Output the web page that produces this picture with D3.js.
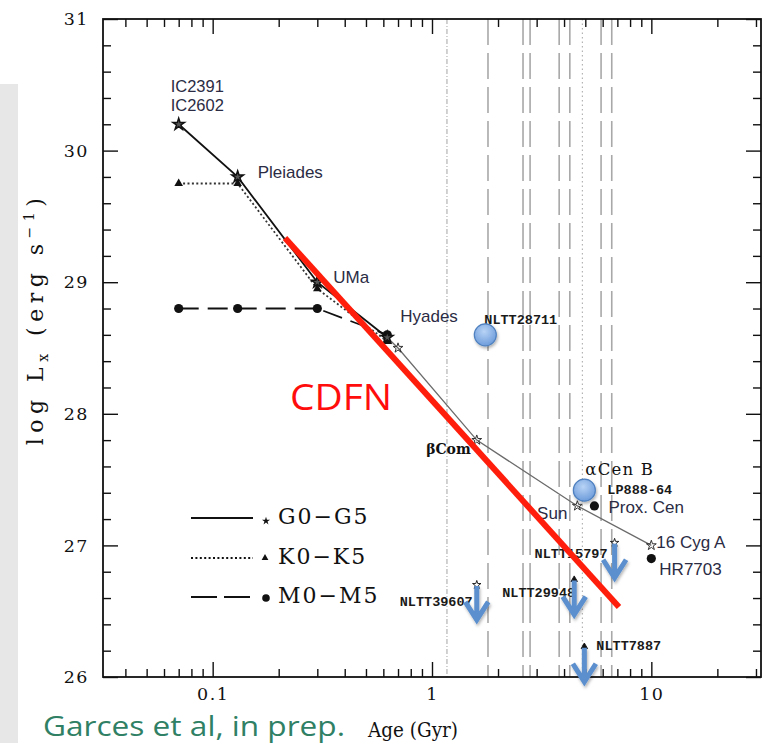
<!DOCTYPE html>
<html>
<head>
<meta charset="utf-8">
<script src="https://cdn.jsdelivr.net/npm/d3@7"></script>
<style>
  html, body { margin: 0; padding: 0; background: #fff; }
  svg { display: block; }
</style>
</head>
<body>
<script>
// ---- X-ray luminosity vs. age, by spectral-type group ----
const gAges = [0.07, 0.13, 0.3, 0.625];          // G0-G5 clusters
const gLx   = [30.2, 29.8, 29.0, 28.58];
const solarAges = [0.625, 0.7, 1.6, 4.6, 10];    // G-type sequence continued to old stars
const solarLx   = [28.58, 28.5, 27.8, 27.3, 27.0];
const kAges = [0.07, 0.13, 0.3, 0.625];          // K0-K5
const kLx   = [29.75, 29.75, 28.95, 28.55];
const mAges = [0.07, 0.13, 0.3, 0.625];          // M0-M5
const mLx   = [28.8, 28.8, 28.8, 28.6];
const mFieldAges = [5.5, 10];                    // Prox. Cen, HR7703
const mFieldLx   = [27.3, 26.9];

// Named objects
const labelNames = ["IC2391", "IC2602", "Pleiades", "UMa", "Hyades", "βCom", "Sun", "αCen B", "Prox. Cen", "16 Cyg A", "HR7703"];
const labelAges  = [0.07, 0.07, 0.13, 0.3, 0.625, 1.6, 4.6, 4.95, 5.5, 10, 10];
const labelLx    = [30.2, 30.2, 29.8, 29.0, 28.6, 27.8, 27.3, 27.42, 27.3, 27.0, 26.9];

// NLTT targets: detections and upper limits
const detNames = ["NLTT28711", "LP888-64"];
const detAges  = [1.75, 4.95];
const detLx    = [28.6, 27.42];
const limNames = ["NLTT39607", "NLTT29948", "NLTT15797", "NLTT7887"];
const limAges  = [1.6, 4.45, 6.8, 4.95];
const limLx    = [26.7, 26.74, 27.02, 26.23];
const limMarks = ["star", "triangle", "star", "triangle"];

// Age markers (vertical guides)
const guideAges  = [1.17, 1.8, 2.6, 2.8, 3.8, 4.25, 4.85, 5.9, 6.6];
const guideKinds = ["dashdot", "dash", "dash", "dash", "dash", "dash", "dot", "dash", "dash"];

// CDFN trend line end points
const cdfnAges = [0.2137, 7.12];
const cdfnLx   = [29.336, 26.532];

// Axes
const xMajor = [0.1, 1, 10];
const xTickLabels = ["0.1", "1", "10"];
const xMinor = [0.04,0.05,0.06,0.07,0.08,0.09,0.2,0.3,0.4,0.5,0.6,0.7,0.8,0.9,2,3,4,5,6,7,8,9,20,30];
const yMajor = [26, 27, 28, 29, 30, 31];
const yTickLabels = ["26", "27", "28", "29", "30", "31"];
const yMinor = d3.range(26, 31.001, 0.2).map(v => +v.toFixed(1)).filter(v => Math.abs(v - Math.round(v)) > 1e-6);

const legendNames = ["G0\u2212G5", "K0\u2212K5", "M0\u2212M5"];

// ---- layout ----
const W = 766, H = 743;
const svg = d3.select("body").append("svg").attr("width", W).attr("height", H);
const x = d3.scaleLog().domain([Math.pow(10, -1.5), Math.pow(10, 1.5)]).range([103, 761]);
const y = d3.scaleLinear().domain([26, 31]).range([677, 19]);
const zip = (a, b) => a.map((v, i) => [v, b[i]]);
const line = d3.line().x(d => x(d[0])).y(d => y(d[1]));

const defs = svg.append("defs");
const sh = defs.append("filter").attr("id", "shadow")
  .attr("x", "-50%").attr("y", "-50%").attr("width", "200%").attr("height", "200%");
sh.append("feDropShadow").attr("dx", 1).attr("dy", 2).attr("stdDeviation", 1.4)
  .attr("flood-color", "#000").attr("flood-opacity", 0.3);
const rg = defs.append("radialGradient").attr("id", "ball")
  .attr("cx", "45%").attr("cy", "35%").attr("r", "65%");
rg.append("stop").attr("offset", "0%").attr("stop-color", "#b8d3f5");
rg.append("stop").attr("offset", "100%").attr("stop-color", "#6d9cdb");

// side panel strip
svg.append("rect").attr("x", 0).attr("y", 84).attr("width", 18).attr("height", H - 84).attr("fill", "#e7e7e7");

// vertical age guides
const guideDash = { dashdot: "5,2,1,2", dash: "26,8", dot: "1.5,3" };
svg.append("g").selectAll("line").data(guideAges).join("line")
  .attr("x1", d => x(d)).attr("x2", d => x(d))
  .attr("y1", y(31)).attr("y2", y(26))
  .attr("stroke", (d, i) => guideKinds[i] === "dash" ? "#a8a8a8" : "#b4b4b4")
  .attr("stroke-width", (d, i) => guideKinds[i] === "dash" ? 1.6 : 1.2)
  .attr("stroke-dasharray", (d, i) => guideDash[guideKinds[i]]);

// axes
function axisGroup(gen, tx, ty) {
  const g = svg.append("g").attr("transform", `translate(${tx},${ty})`).call(gen);
  g.select(".domain").remove();
  g.selectAll(".tick line").attr("stroke", "#111").attr("stroke-width", 1.4);
  return g;
}
const tickFont = "'DejaVu Serif', serif";
const xb = axisGroup(d3.axisBottom(x).tickValues(xMajor).tickSizeInner(-15).tickSizeOuter(0).tickPadding(11)
  .tickFormat((d, i) => xTickLabels[i]), 0, y(26));
axisGroup(d3.axisBottom(x).tickValues(xMinor).tickSizeInner(-8).tickSizeOuter(0).tickFormat(""), 0, y(26));
axisGroup(d3.axisTop(x).tickValues(xMajor).tickSizeInner(-15).tickSizeOuter(0).tickFormat(""), 0, y(31));
axisGroup(d3.axisTop(x).tickValues(xMinor).tickSizeInner(-8).tickSizeOuter(0).tickFormat(""), 0, y(31));
const yl = axisGroup(d3.axisLeft(y).tickValues(yMajor).tickSizeInner(-15).tickSizeOuter(0).tickPadding(14)
  .tickFormat((d, i) => yTickLabels[i]), x.range()[0], 0);
axisGroup(d3.axisLeft(y).tickValues(yMinor).tickSizeInner(-8).tickSizeOuter(0).tickFormat(""), x.range()[0], 0);
axisGroup(d3.axisRight(y).tickValues(yMajor).tickSizeInner(-15).tickSizeOuter(0).tickFormat(""), x.range()[1], 0);
axisGroup(d3.axisRight(y).tickValues(yMinor).tickSizeInner(-8).tickSizeOuter(0).tickFormat(""), x.range()[1], 0);
[xb, yl].forEach(g => g.selectAll("text")
  .attr("font-family", tickFont).attr("font-size", 17.5).attr("fill", "#111").attr("letter-spacing", 1.5));

svg.append("rect").attr("x", x.range()[0]).attr("y", y(31))
  .attr("width", x.range()[1] - x.range()[0]).attr("height", y(26) - y(31))
  .attr("fill", "none").attr("stroke", "#111").attr("stroke-width", 1.8);

// axis titles
svg.append("text").attr("x", 413).attr("y", 737).attr("text-anchor", "middle")
  .attr("font-family", tickFont).attr("font-size", 20)
  .attr("textLength", 90).attr("lengthAdjust", "spacingAndGlyphs").attr("fill", "#111")
  .text("Age (Gyr)");
const yt = svg.append("text").attr("transform", "translate(43,319) rotate(-90)")
  .attr("text-anchor", "middle").attr("font-family", tickFont).attr("font-size", 22)
  .attr("fill", "#111").attr("letter-spacing", 5.5);
yt.append("tspan").text("log L");
yt.append("tspan").attr("dy", 5).attr("font-size", 14).text("x");
yt.append("tspan").attr("dy", -5).text(" (erg s");
yt.append("tspan").attr("dy", -9).attr("font-size", 14).text("\u22121");
yt.append("tspan").attr("dy", 9).text(")");

// ---- group sequences ----
svg.append("path").datum(zip(kAges, kLx)).attr("d", line)
  .attr("fill", "none").attr("stroke", "#333").attr("stroke-width", 1.8).attr("stroke-dasharray", "2,2.4");
svg.append("path").datum(zip(mAges, mLx)).attr("d", line)
  .attr("fill", "none").attr("stroke", "#111").attr("stroke-width", 1.8).attr("stroke-dasharray", "20,9");
svg.append("path").datum(zip(solarAges, solarLx)).attr("d", line)
  .attr("fill", "none").attr("stroke", "#6b6b6b").attr("stroke-width", 1.3);
svg.append("path").datum(zip(gAges, gLx)).attr("d", line)
  .attr("fill", "none").attr("stroke", "#111").attr("stroke-width", 1.8);

const star = d3.symbol().type(d3.symbolStar);
const tri = d3.symbol().type(d3.symbolTriangle);
svg.append("g").selectAll("path").data(zip(kAges, kLx)).join("path")
  .attr("transform", d => `translate(${x(d[0])},${y(d[1])})`)
  .attr("d", tri.size(32)).attr("fill", "#111");
svg.append("g").selectAll("circle").data(zip(mAges, mLx).concat(zip(mFieldAges, mFieldLx))).join("circle")
  .attr("cx", d => x(d[0])).attr("cy", d => y(d[1])).attr("r", 4.6).attr("fill", "#111");
svg.append("g").selectAll("path").data(zip(solarAges.slice(1), solarLx.slice(1))).join("path")
  .attr("transform", d => `translate(${x(d[0])},${y(d[1])})`)
  .attr("d", star.size(30)).attr("fill", "none").attr("stroke", "#333").attr("stroke-width", 1);
svg.append("g").selectAll("path").data(zip(gAges, gLx)).join("path")
  .attr("transform", d => `translate(${x(d[0])},${y(d[1])})`)
  .attr("d", star.size(42)).attr("fill", "#555").attr("stroke", "#111").attr("stroke-width", 1.5);

// ---- object labels ----
const sansFont = "'Liberation Sans', Arial, sans-serif";
const serifFont = "'DejaVu Serif', serif";
const monoFont = "'Liberation Mono', monospace";
const labelStyle = {
  "IC2391":   { dx: -8,  dy: -32, font: sansFont, size: 16.5 },
  "IC2602":   { dx: -8,  dy: -13, font: sansFont, size: 16.5 },
  "Pleiades": { dx: 20,  dy: 1,   font: sansFont, size: 17 },
  "UMa":      { dx: 16,  dy: 1,   font: sansFont, size: 17 },
  "Hyades":   { dx: 13,  dy: -13, font: sansFont, size: 17 },
  "βCom":     { dx: -6,  dy: 14,  font: serifFont, size: 14, weight: "bold", anchor: "end" },
  "Sun":      { dx: -10, dy: 13,  font: sansFont, size: 17, anchor: "end" },
  "αCen B":   { dx: 1,   dy: -15, font: serifFont, size: 16.5, spacing: 1.2 },
  "Prox. Cen":{ dx: 14,  dy: 7,   font: sansFont, size: 17 },
  "16 Cyg A": { dx: 5,   dy: 3,   font: sansFont, size: 17 },
  "HR7703":   { dx: 8,   dy: 16,  font: sansFont, size: 17 }
};
svg.append("g").selectAll("text").data(labelNames).join("text")
  .attr("x", (d, i) => x(labelAges[i]) + labelStyle[d].dx)
  .attr("y", (d, i) => y(labelLx[i]) + labelStyle[d].dy)
  .attr("font-family", d => labelStyle[d].font)
  .attr("font-size", d => labelStyle[d].size)
  .attr("font-weight", d => labelStyle[d].weight || "normal")
  .attr("letter-spacing", d => labelStyle[d].spacing || 0)
  .attr("text-anchor", d => labelStyle[d].anchor || "start")
  .attr("fill", d => labelStyle[d].font === sansFont ? "#2b2c44" : "#111")
  .text(d => d);

const targetOffset = {
  "NLTT28711": [-1, -11], "LP888-64": [23, 4],
  "NLTT39607": [-77, 21], "NLTT29948": [-72, 17], "NLTT15797": [-80, 15], "NLTT7887": [12, 3]
};
const tNames = detNames.concat(limNames);
const tAges = detAges.concat(limAges);
const tLx = detLx.concat(limLx);
svg.append("g").selectAll("text").data(tNames).join("text")
  .attr("x", (d, i) => x(tAges[i]) + targetOffset[d][0])
  .attr("y", (d, i) => y(tLx[i]) + targetOffset[d][1])
  .attr("font-family", monoFont).attr("font-size", 13.5).attr("font-weight", "bold")
  .attr("fill", "#1a1a1a").text(d => d);

// upper-limit markers
svg.append("g").selectAll("path").data(limAges).join("path")
  .attr("transform", (d, i) => `translate(${x(d)},${y(limLx[i])})`)
  .attr("d", (d, i) => limMarks[i] === "star" ? star.size(22)() : tri.size(18)())
  .attr("fill", (d, i) => limMarks[i] === "star" ? "none" : "#111")
  .attr("stroke", "#111").attr("stroke-width", 0.9);

// ---- CDFN trend ----
svg.append("path").datum(zip(cdfnAges, cdfnLx)).attr("d", line)
  .attr("fill", "none").attr("stroke", "#ff1e0c").attr("stroke-width", 6);
svg.append("text").attr("x", 290).attr("y", 410)
  .attr("font-family", "'Open Sans', sans-serif").attr("font-size", 37)
  .attr("textLength", 102).attr("lengthAdjust", "spacingAndGlyphs")
  .attr("fill", "#ff0d0d").text("CDFN");

// detections
svg.append("g").selectAll("circle").data(detAges).join("circle")
  .attr("cx", d => x(d)).attr("cy", (d, i) => y(detLx[i])).attr("r", 11)
  .attr("fill", "url(#ball)").attr("stroke", "#4f80bf").attr("stroke-width", 1.2)
  .attr("filter", "url(#shadow)");

// upper-limit arrows
svg.append("g").selectAll("g").data(limAges).join("g")
  .attr("transform", (d, i) => `translate(${x(d)},${y(limLx[i]) + 1})`)
  .attr("filter", "url(#shadow)")
  .each(function () {
    const g = d3.select(this);
    g.append("path").attr("d", "M0,0 L0,34 M-11.5,16 L0,34 L11.5,16")
      .attr("fill", "none").attr("stroke", "#5b8fcd").attr("stroke-width", 5)
      .attr("stroke-linejoin", "miter");
  });

// ---- legend ----
const legendDash = [null, "2,2.4", "26,7"];
const legendRows = [518, 558, 597];
legendNames.forEach((name, i) => {
  const ly = legendRows[i];
  svg.append("line").attr("x1", 191).attr("x2", 253).attr("y1", ly).attr("y2", ly)
    .attr("stroke", "#111").attr("stroke-width", 1.8)
    .attr("stroke-dasharray", legendDash[i]);
  if (i === 0) svg.append("path").attr("transform", `translate(266,${ly + 3})`).attr("d", star.size(20)()).attr("fill", "#111");
  if (i === 1) svg.append("path").attr("transform", `translate(265,${ly})`).attr("d", tri.size(20)()).attr("fill", "#111");
  if (i === 2) svg.append("circle").attr("cx", 266).attr("cy", ly + 1).attr("r", 3.8).attr("fill", "#111");
  svg.append("text").attr("x", 278).attr("y", ly + 6)
    .attr("font-family", serifFont).attr("font-size", 22).attr("letter-spacing", 2)
    .attr("fill", "#111").text(name);
});

// citation
svg.append("text").attr("x", 43).attr("y", 736)
  .attr("font-family", "'Open Sans', sans-serif").attr("font-size", 27.5)
  .attr("textLength", 302).attr("lengthAdjust", "spacingAndGlyphs")
  .attr("fill", "#2f8064").text("Garces et al, in prep.");
</script>
</body>
</html>
